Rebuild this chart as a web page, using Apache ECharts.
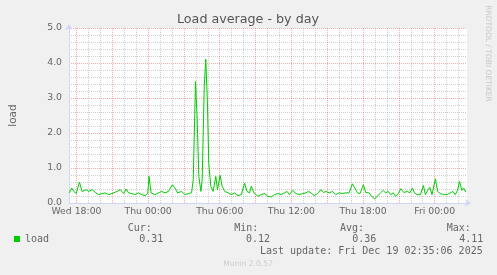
<!DOCTYPE html>
<html>
<head>
<meta charset="utf-8">
<script src="https://cdn.jsdelivr.net/npm/echarts@6/dist/echarts.min.js"></script>
<style>
html,body{margin:0;padding:0;background:#f0f0f0;}
#c{width:497px;height:275px;}
</style>
</head>
<body>
<div id="c"></div>
<script>
// ---- data (hours after Wed 18:00, load values) ----
const hours = [-0.60,-0.41,-0.22,-0.02,0.25,0.47,0.61,0.81,1.03,1.31,1.59,1.86,2.14,2.42,2.70,2.97,3.39,3.67,3.95,4.17,4.36,4.64,4.92,5.20,5.47,5.75,5.97,6.08,6.25,6.58,6.86,7.14,7.42,7.70,8.03,8.25,8.47,8.81,9.08,9.36,9.64,9.78,9.97,10.11,10.25,10.42,10.53,10.70,10.83,10.97,11.08,11.25,11.45,11.67,11.81,12.03,12.20,12.42,12.70,12.97,13.25,13.53,13.81,14.08,14.28,14.50,14.64,14.86,15.20,15.47,15.75,16.03,16.31,16.58,16.86,17.14,17.42,17.64,17.83,18.11,18.39,18.67,18.95,19.22,19.42,19.64,19.92,20.19,20.47,20.69,20.89,21.17,21.45,21.72,22.00,22.28,22.56,22.83,23.11,23.31,23.53,23.75,24.03,24.22,24.50,24.72,24.97,25.19,25.47,25.69,25.89,26.11,26.31,26.53,26.72,26.95,27.17,27.42,27.70,27.92,28.14,28.31,28.53,28.81,29.06,29.22,29.42,29.59,29.78,30.06,30.25,30.47,30.75,31.03,31.31,31.53,31.72,31.92,32.08,32.28,32.42,32.61];
const load = [0.29,0.43,0.33,0.27,0.60,0.33,0.29,0.38,0.33,0.38,0.30,0.24,0.27,0.29,0.24,0.27,0.33,0.38,0.27,0.40,0.29,0.27,0.24,0.29,0.24,0.21,0.27,0.76,0.29,0.24,0.29,0.33,0.29,0.33,0.52,0.43,0.29,0.33,0.24,0.27,0.29,0.67,3.47,2.38,0.76,0.33,0.67,3.33,4.11,2.86,1.14,0.48,0.33,0.76,0.38,0.79,0.48,0.33,0.29,0.24,0.29,0.21,0.24,0.57,0.33,0.29,0.48,0.29,0.19,0.24,0.27,0.19,0.17,0.24,0.27,0.24,0.29,0.33,0.24,0.36,0.27,0.24,0.27,0.29,0.33,0.29,0.21,0.27,0.38,0.30,0.33,0.29,0.33,0.24,0.29,0.27,0.29,0.29,0.55,0.43,0.29,0.27,0.52,0.30,0.29,0.19,0.12,0.19,0.29,0.36,0.29,0.33,0.24,0.29,0.19,0.27,0.41,0.30,0.33,0.29,0.43,0.29,0.24,0.24,0.50,0.24,0.36,0.45,0.24,0.69,0.33,0.27,0.24,0.24,0.29,0.33,0.24,0.36,0.62,0.36,0.43,0.31];

const xTickHours = [0, 6, 12, 18, 24, 30];
const xTickLabels = ['Wed 18:00', 'Thu 00:00', 'Thu 06:00', 'Thu 12:00', 'Thu 18:00', 'Fri 00:00'];
const majorGridHours = [0, 3, 6, 9, 12, 15, 18, 21, 24, 27, 30];
const minorGridHours = [1, 2, 4, 5, 7, 8, 10, 11, 13, 14, 16, 17, 19, 20, 22, 23, 25, 26, 28, 29, 31, 32];
const xRange = [-0.625, 32.7083];
const yRange = [0, 5];
const yStep = 1;

const titleText = 'Load average - by day';
const seriesName = 'load';
const yName = 'load';
const statLabels = ['Cur:', 'Min:', 'Avg:', 'Max:'];
const statValues = ['0.31', '0.12', '0.36', '4.11'];
const lastUpdate = 'Last update: Fri Dec 19 02:35:06 2025';
const credit = 'Munin 2.0.57';
const sideText = 'RRDTOOL / TOBI OETIKER';

// ---- styles ----
const FONT = "'DejaVu Sans', sans-serif";
const MONO = "'DejaVu Sans Mono', monospace";
const TXT = '#666666';
const AXISC = '#CFD6F8';
const RED = 'rgba(255,0,0,0.35)';
const GREY = 'rgba(128,128,128,0.38)';
const GREEN = '#00cc00';

const chart = echarts.init(document.getElementById('c'), null, {renderer: 'canvas'});

function gridSeries(values, color, z) {
  return {
    type: 'line', data: [], xAxisIndex: 0, yAxisIndex: 0, z: z, silent: true,
    markLine: {
      silent: true, symbol: ['none', 'none'], animation: false,
      label: {show: false}, emphasis: {disabled: true},
      lineStyle: {color: color, width: 1, type: [1, 1]},
      data: values.map(h => ({xAxis: h}))
    }
  };
}

const statX = [127.7, 234.3, 340, 446.7];
const statVX = [139.3, 246, 352.3, 459.3];
const graphics = [];
graphics.push({
  type: 'text', x: 248, y: 19.5,
  style: {text: titleText, fill: '#555555', font: "12.7px " + FONT, textAlign: 'center', textVerticalAlign: 'middle'}
});
graphics.push({
  type: 'text', x: 487.5, y: 53.5, rotation: -Math.PI / 2,
  style: {text: sideText, fill: '#c8c8c8', font: "7.5px " + FONT, textAlign: 'center', textVerticalAlign: 'middle'}
});
statLabels.forEach((s, i) => {
  graphics.push({type: 'text', x: statX[i], y: 228, style: {text: s, fill: TXT, font: "10px " + MONO, textAlign: 'left', textVerticalAlign: 'middle'}});
  graphics.push({type: 'text', x: statVX[i], y: 239.5, style: {text: statValues[i], fill: TXT, font: "10px " + MONO, textAlign: 'left', textVerticalAlign: 'middle'}});
});
graphics.push({type: 'text', x: 482.7, y: 251, style: {text: lastUpdate, fill: TXT, font: "10px " + MONO, textAlign: 'right', textVerticalAlign: 'middle'}});
graphics.push({type: 'text', x: 248, y: 264, style: {text: credit, fill: '#cccccc', font: "7.6px " + FONT, textAlign: 'center', textVerticalAlign: 'middle'}});

const option = {
  animation: false,
  backgroundColor: '#f0f0f0',
  textStyle: {fontFamily: FONT},
  grid: {left: 67, right: 30, top: 28, bottom: 72, show: true, backgroundColor: '#ffffff', borderWidth: 0, containLabel: false},
  legend: {
    data: [seriesName], left: 14, top: 234, padding: 0, icon: 'rect', itemWidth: 6, itemHeight: 6, itemGap: 10,
    selectedMode: false,
    textStyle: {fontFamily: MONO, fontSize: 10, color: TXT}
  },
  xAxis: {
    type: 'value', min: xRange[0], max: xRange[1],
    axisLine: {show: true, onZero: false, lineStyle: {color: AXISC, width: 1}, symbol: ['none', 'arrow'], symbolSize: [6, 6], symbolOffset: [0, 4]},
    axisTick: {show: false, customValues: xTickHours},
    axisLabel: {
      customValues: xTickHours, color: TXT, fontSize: 9.3, fontFamily: FONT, margin: 4,
      formatter: v => { const k = xTickHours.indexOf(Math.round(v)); return k >= 0 ? xTickLabels[k] : ''; }
    },
    splitLine: {show: false}
  },
  yAxis: {
    type: 'value', min: yRange[0], max: yRange[1], interval: yStep,
    name: yName, nameLocation: 'middle', nameGap: 50,
    nameTextStyle: {color: TXT, fontSize: 10.5, fontFamily: FONT},
    axisLine: {show: true, onZero: false, lineStyle: {color: AXISC, width: 1}, symbol: ['none', 'arrow'], symbolSize: [6, 6], symbolOffset: [0, 4]},
    axisTick: {show: false},
    axisLabel: {color: TXT, fontSize: 9.3, fontFamily: FONT, margin: 7, formatter: v => v.toFixed(1)},
    splitLine: {show: true, lineStyle: {color: RED, width: 1, type: [1, 1]}},
    minorTick: {show: false, splitNumber: 5},
    minorSplitLine: {show: true, lineStyle: {color: GREY, width: 1, type: [1, 1]}}
  },
  series: [
    gridSeries(minorGridHours, GREY, 1),
    gridSeries(majorGridHours, RED, 2),
    {
      name: seriesName, type: 'line', xAxisIndex: 0, yAxisIndex: 0,
      data: hours.map((h, i) => [h, load[i]]),
      showSymbol: false, symbol: 'none',
      lineStyle: {color: GREEN, width: 1}, itemStyle: {color: GREEN},
      z: 5
    }
  ],
  graphic: graphics
};
chart.setOption(option);
</script>
</body>
</html>
